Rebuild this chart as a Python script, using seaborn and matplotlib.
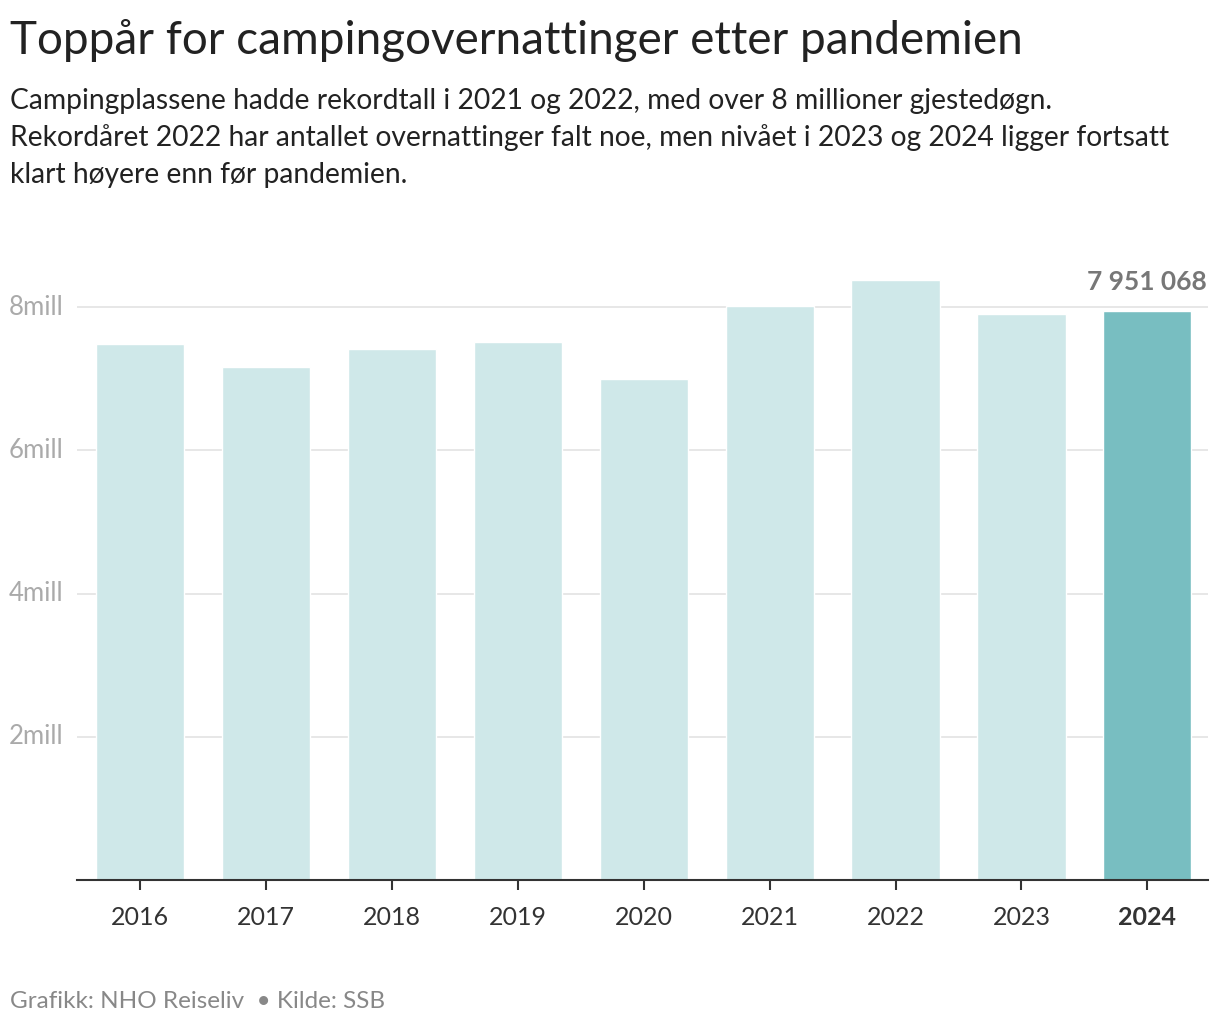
import matplotlib
matplotlib.use("Agg")
import matplotlib.pyplot as plt
import seaborn as sns
import pandas as pd

# data (millions of guest nights)
years = ["2016", "2017", "2018", "2019", "2020", "2021", "2022", "2023", "2024"]
nights = [7.48, 7.17, 7.41, 7.52, 6.99, 8.01, 8.38, 7.91, 7.951068]
yticks = [2, 4, 6, 8]
ytick_labels = ["2mill", "4mill", "6mill", "8mill"]
highlight = "2024"
highlight_label = "7 951 068"

light = "#cfe8e9"
dark = "#78bec1"

df = pd.DataFrame({"year": years, "nights": nights})
palette = {y: (dark if y == highlight else light) for y in years}

sns.set_theme(style="white")
plt.rcParams["font.family"] = ["Lato", "DejaVu Sans"]

fig = plt.figure(figsize=(12.2, 10.28), dpi=100)
ax = fig.add_axes([0.0631, 0.144, 0.9269, 0.599])

sns.barplot(data=df, x="year", y="nights", hue="year", palette=palette,
            width=0.70, legend=False, ax=ax, saturation=1)

ax.set_ylim(0, 8.6)
ax.set_xlim(-0.5, 8.48)
ax.set_yticks(yticks)
ax.set_yticklabels(ytick_labels)
ax.set_xlabel("")
ax.set_ylabel("")

for y in yticks:
    ax.axhline(y, color="#e3e3e3", lw=1.2, zorder=0)

for s in ["top", "right", "left"]:
    ax.spines[s].set_visible(False)
ax.spines["bottom"].set_color("#333333")
ax.spines["bottom"].set_linewidth(1.5)

ax.tick_params(axis="x", length=7, width=1.5, color="#333333", pad=12,
               labelsize=18, labelcolor="#333333", bottom=True)
ax.tick_params(axis="y", length=0, pad=10, labelsize=18.5, labelcolor="#aaaaaa")
for lbl in ax.get_yticklabels():
    lbl.set_verticalalignment("center")
for lbl in ax.get_xticklabels():
    if lbl.get_text() == highlight:
        lbl.set_fontweight("bold")

hi = years.index(highlight)
ax.annotate(highlight_label, (hi, nights[hi]), xytext=(0, 12),
            textcoords="offset points", ha="center", va="bottom",
            fontsize=19, fontweight="bold", color="#777777",
            annotation_clip=False)

fig.text(0.008, 0.961, "Toppår for campingovernattinger etter pandemien",
         fontsize=33, color="#222222", va="center", ha="left")
fig.text(0.008, 0.866,
         "Campingplassene hadde rekordtall i 2021 og 2022, med over 8 millioner gjestedøgn.\n"
         "Rekordåret 2022 har antallet overnattinger falt noe, men nivået i 2023 og 2024 ligger fortsatt\n"
         "klart høyere enn før pandemien.",
         fontsize=20.3, color="#222222", va="center", ha="left", linespacing=1.48)
fig.text(0.008, 0.026, "Grafikk: NHO Reiseliv  • Kilde: SSB",
         fontsize=17.5, color="#888888", va="center", ha="left")

fig.savefig("out.png", dpi=100, facecolor="white")
